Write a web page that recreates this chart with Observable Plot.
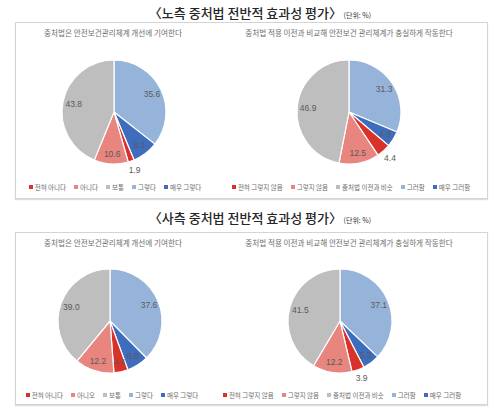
<!DOCTYPE html>
<html><head><meta charset="utf-8">
<script src="https://cdn.jsdelivr.net/npm/d3@7"></script>
<script src="https://cdn.jsdelivr.net/npm/@observablehq/plot@0.6"></script>
<style>
html,body{margin:0;padding:0;background:#fff;}
body{width:500px;height:419px;position:relative;overflow:hidden;font-family:"Noto Sans CJK KR","Noto Sans",sans-serif;}
.abs{position:absolute;}
.title{font-size:13px;font-weight:500;color:#262626;white-space:nowrap;text-align:center;line-height:18px;}
.unit{font-size:7px;font-weight:normal;color:#333;}
.panel{border:1px solid #d4d4d4;box-shadow:0 1px 1px #ddd;box-sizing:border-box;}
.sub{font-size:7.6px;color:#6e6e6e;white-space:nowrap;text-align:center;line-height:12px;}
.legend{font-size:6.5px;color:#6a6a6a;white-space:nowrap;display:flex;justify-content:center;align-items:center;line-height:10px;}
.legend .it{display:flex;align-items:center;margin:0 4px;}
.legend .sw{width:4px;height:4px;margin-right:2px;display:inline-block;}
</style></head>
<body>
<script>
// ---- data ----
const titleTop = "〈노측 중처법 전반적 효과성 평가〉";
const titleBottom = "〈사측 중처법 전반적 효과성 평가〉";
const unitLabel = "(단위: %)";
const questionA = "중처법은 안전보건관리체계 개선에 기여한다";
const questionB = "중처법 적용 이전과 비교해 안전보건 관리체계가 충실하게 작동한다";

const nochukCatsA = ["전혀 아니다", "아니다", "보통", "그렇다", "매우 그렇다"];
const nochukCatsB = ["전혀 그렇지 않음", "그렇지 않음", "중처법 이전과 비슷", "그러함", "매우 그러함"];
const sachukCatsA = ["전혀 아니다", "아니오", "보통", "그렇다", "매우 그렇다"];
const sachukCatsB = ["전혀 그렇지 않음", "그렇지 않음", "중처법 이전과 비슷", "그러함", "매우 그러함"];

const nochukValuesA = [1.9, 10.6, 43.8, 35.6, 8.1];
const nochukValuesB = [4.4, 12.5, 46.9, 31.3, 4.9];
const sachukValuesA = [4.4, 12.2, 39.0, 37.6, 6.8];
const sachukValuesB = [3.9, 12.2, 41.5, 37.1, 5.3];

// which labels sit outside the pie
const nochukOutsideA = [true, false, false, false, false];
const nochukOutsideB = [true, false, false, false, false];
const sachukOutsideA = [false, false, false, false, false];
const sachukOutsideB = [true, false, false, false, false];

const sliceColors = ["#D8322B", "#E8857F", "#BEBEBE", "#96B4D9", "#3F6DBE"];
const clockwiseOrder = [3, 4, 0, 1, 2]; // slices from 12 o'clock clockwise

// ---- helpers ----
function el(tag, cls, css, html) {
  const e = document.createElement(tag);
  if (cls) e.className = cls;
  Object.assign(e.style, css || {});
  if (html != null) e.innerHTML = html;
  document.body.appendChild(e);
  return e;
}

const R = 52;
function pie(cats, values, outside, cx, cy) {
  const W = 220, H = 130;
  const rows = clockwiseOrder.map(i => ({cat: cats[i], value: values[i], color: sliceColors[i], outside: outside[i]}));
  const arcs = d3.pie().sort(null).value(d => d.value).startAngle(0).endAngle(2 * Math.PI)(rows);
  const labels = arcs.map(a => {
    const m = (a.startAngle + a.endAngle) / 2;
    const lr = a.data.outside ? R * 1.17 : R * 0.8;
    return {x: lr * Math.sin(m), y: lr * Math.cos(m), text: a.data.value.toFixed(1)};
  });
  const sliceMark = (index, scales, values2, dims) => {
    const sx = scales.x, sy = scales.y;
    const x0 = sx(0), y0 = sy(0);
    const rr = sx(R) - sx(0);
    const g = d3.create("svg:g").attr("transform", `translate(${x0},${y0})`);
    const arc = d3.arc().innerRadius(0).outerRadius(rr);
    g.selectAll("path").data(arcs).join("path")
      .attr("d", arc)
      .attr("fill", d => d.data.color)
      .attr("stroke", "#fff")
      .attr("stroke-width", 1.2)
      .attr("stroke-linejoin", "round");
    return g.node();
  };
  const svg = Plot.plot({
    width: W, height: H,
    margin: 0,
    x: {domain: [-W / 2, W / 2], axis: null},
    y: {domain: [-H / 2, H / 2], axis: null},
    style: {background: "transparent", overflow: "visible"},
    marks: [
      sliceMark,
      Plot.text(labels, {x: "x", y: "y", text: "text", fill: "#5a5a5a", fontSize: 8.5,
        fontFamily: "Liberation Sans, Arial, sans-serif"})
    ]
  });
  svg.style.position = "absolute";
  svg.style.left = (cx - W / 2) + "px";
  svg.style.top = (cy - H / 2) + "px";
  document.body.appendChild(svg);
}

function legend(cats, cx, cy, width) {
  const d = el("div", "abs legend", {left: (cx - width / 2) + "px", top: (cy - 5) + "px", width: width + "px"});
  cats.forEach((c, i) => {
    const it = document.createElement("span");
    it.className = "it";
    it.innerHTML = `<span class="sw" style="background:${sliceColors[i]}"></span>${c}`;
    d.appendChild(it);
  });
}

function section(title, top, panelTop, panelH) {
  el("div", "abs title", {left: "0px", width: "520px", top: (top - 9) + "px"},
    `${title}<span class="unit"> ${unitLabel}</span>`);
  el("div", "abs panel", {left: "15px", top: panelTop + "px", width: "473px", height: panelH + "px"});
  const subY = panelTop + 11;
  el("div", "abs sub", {left: (113 - 150) + "px", width: "300px", top: (subY - 6) + "px"}, questionA);
  el("div", "abs sub", {left: (349 - 150) + "px", width: "300px", top: (subY - 6) + "px"}, questionB);
}

section(titleTop, 13, 22, 177);
pie(nochukCatsA, nochukValuesA, nochukOutsideA, 114, 112);
pie(nochukCatsB, nochukValuesB, nochukOutsideB, 349, 112);
legend(nochukCatsA, 115, 187, 240);
legend(nochukCatsB, 351, 187, 260);

section(titleBottom, 218, 232, 173);
pie(sachukCatsA, sachukValuesA, sachukOutsideA, 110, 321);
pie(sachukCatsB, sachukValuesB, sachukOutsideB, 340, 321);
legend(sachukCatsA, 112, 395, 240);
legend(sachukCatsB, 342, 395, 260);
</script>
</body></html>
